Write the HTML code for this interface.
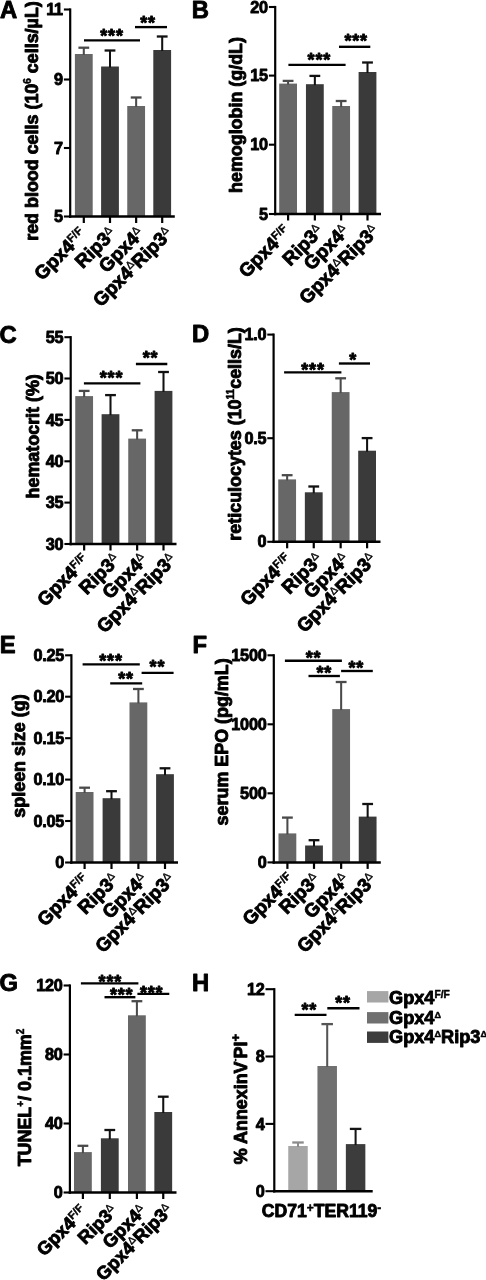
<!DOCTYPE html>
<html lang="en">
<head>
<meta charset="utf-8">
<title>Figure: Gpx4 / Rip3 hematology panels A-H</title>
<style>
html,body{margin:0;padding:0;background:#fff;}
body{width:486px;height:1280px;overflow:hidden;}
svg{display:block;}
text{white-space:pre;stroke:#000;stroke-width:0.9px;stroke-linejoin:round;}
</style>
</head>
<body>
<svg width="486" height="1280" viewBox="0 0 486 1280" font-family="'Liberation Sans', sans-serif" font-weight="bold" fill="#000">
<rect width="486" height="1280" fill="#fff"/>
<g class="panel-A">
<rect x="74.90" y="54.00" width="17.80" height="162.50" fill="#676767"/>
<line x1="83.80" y1="47.20" x2="83.80" y2="55.00" stroke="#4a4a4a" stroke-width="2.05"/>
<line x1="78.40" y1="47.70" x2="89.20" y2="47.70" stroke="#4a4a4a" stroke-width="2.3"/>
<rect x="101.10" y="66.50" width="17.80" height="150.00" fill="#3a3a3a"/>
<line x1="110.00" y1="50.00" x2="110.00" y2="67.50" stroke="#111" stroke-width="2.05"/>
<line x1="104.60" y1="50.50" x2="115.40" y2="50.50" stroke="#111" stroke-width="2.3"/>
<rect x="127.25" y="106.00" width="17.80" height="110.50" fill="#676767"/>
<line x1="136.15" y1="97.00" x2="136.15" y2="107.00" stroke="#4a4a4a" stroke-width="2.05"/>
<line x1="130.75" y1="97.50" x2="141.55" y2="97.50" stroke="#4a4a4a" stroke-width="2.3"/>
<rect x="153.30" y="50.00" width="17.80" height="166.50" fill="#3a3a3a"/>
<line x1="162.20" y1="36.00" x2="162.20" y2="51.00" stroke="#111" stroke-width="2.05"/>
<line x1="156.80" y1="36.50" x2="167.60" y2="36.50" stroke="#111" stroke-width="2.3"/>
<line x1="70.20" y1="8.40" x2="70.20" y2="217.75" stroke="#000" stroke-width="2.2"/>
<line x1="69.00" y1="216.50" x2="174.80" y2="216.50" stroke="#000" stroke-width="2.5"/>
<line x1="63.90" y1="9.50" x2="70.20" y2="9.50" stroke="#000" stroke-width="2.1"/>
<text transform="translate(62.90,15.10) scale(0.94,1)" font-size="17.3" text-anchor="end" letter-spacing="-0.25">11</text>
<line x1="63.90" y1="79.50" x2="70.20" y2="79.50" stroke="#000" stroke-width="2.1"/>
<text transform="translate(62.90,85.10) scale(0.94,1)" font-size="17.3" text-anchor="end" letter-spacing="-0.25">9</text>
<line x1="63.90" y1="148.00" x2="70.20" y2="148.00" stroke="#000" stroke-width="2.1"/>
<text transform="translate(62.90,153.60) scale(0.94,1)" font-size="17.3" text-anchor="end" letter-spacing="-0.25">7</text>
<line x1="63.90" y1="216.50" x2="70.20" y2="216.50" stroke="#000" stroke-width="2.1"/>
<text transform="translate(62.90,222.10) scale(0.94,1)" font-size="17.3" text-anchor="end" letter-spacing="-0.25">5</text>
<line x1="83.80" y1="216.50" x2="83.80" y2="223.00" stroke="#000" stroke-width="2.2"/>
<text transform="translate(87.80,235.50) rotate(-45)" font-size="19" text-anchor="end">Gpx4<tspan font-size="0.58em" dy="-0.58em" stroke-width="0.45" letter-spacing="0.2">F/F</tspan></text>
<line x1="110.00" y1="216.50" x2="110.00" y2="223.00" stroke="#000" stroke-width="2.2"/>
<text transform="translate(117.00,235.00) rotate(-45)" font-size="19" text-anchor="end">Rip3<tspan font-size="0.56em" dy="-0.6em" font-weight="normal" stroke-width="0.45">Δ</tspan></text>
<line x1="136.15" y1="216.50" x2="136.15" y2="223.00" stroke="#000" stroke-width="2.2"/>
<text transform="translate(145.15,235.00) rotate(-45)" font-size="19" text-anchor="end">Gpx4<tspan font-size="0.56em" dy="-0.6em" font-weight="normal" stroke-width="0.45">Δ</tspan></text>
<line x1="162.20" y1="216.50" x2="162.20" y2="223.00" stroke="#000" stroke-width="2.2"/>
<text transform="translate(173.50,235.00) rotate(-45)" font-size="19" text-anchor="end">Gpx4<tspan font-size="0.56em" dy="-0.6em" font-weight="normal" stroke-width="0.45">Δ</tspan><tspan dy="0.336em">Rip3</tspan><tspan font-size="0.56em" dy="-0.6em" font-weight="normal" stroke-width="0.45">Δ</tspan></text>
<line x1="84.00" y1="40.40" x2="140.00" y2="40.40" stroke="#000" stroke-width="2.35"/>
<text x="112.00" y="42.40" font-size="18" text-anchor="middle" stroke-width="0.25" letter-spacing="0.8">***</text>
<line x1="135.00" y1="27.10" x2="167.00" y2="27.10" stroke="#000" stroke-width="2.35"/>
<text x="148.00" y="29.40" font-size="18" text-anchor="middle" stroke-width="0.25" letter-spacing="0.8">**</text>
<text x="0.00" y="18.10" font-size="23.8" stroke-width="0.6">A</text>
<text transform="translate(37.90,121.00) rotate(-90)" font-size="17.9" text-anchor="middle">red blood cells (10<tspan font-size="0.56em" dy="-0.670em" stroke-width="0.5">6</tspan><tspan dy="0.375em"> cells/µL)</tspan></text>
</g>
<g class="panel-B">
<rect x="279.20" y="83.60" width="17.80" height="130.40" fill="#676767"/>
<line x1="288.10" y1="80.40" x2="288.10" y2="84.60" stroke="#4a4a4a" stroke-width="2.05"/>
<line x1="282.70" y1="80.90" x2="293.50" y2="80.90" stroke="#4a4a4a" stroke-width="2.3"/>
<rect x="305.95" y="84.20" width="17.80" height="129.80" fill="#3a3a3a"/>
<line x1="314.85" y1="75.40" x2="314.85" y2="85.20" stroke="#111" stroke-width="2.05"/>
<line x1="309.45" y1="75.90" x2="320.25" y2="75.90" stroke="#111" stroke-width="2.3"/>
<rect x="332.25" y="106.00" width="17.80" height="108.00" fill="#676767"/>
<line x1="341.15" y1="100.50" x2="341.15" y2="107.00" stroke="#4a4a4a" stroke-width="2.05"/>
<line x1="335.75" y1="101.00" x2="346.55" y2="101.00" stroke="#4a4a4a" stroke-width="2.3"/>
<rect x="358.60" y="72.00" width="17.80" height="142.00" fill="#3a3a3a"/>
<line x1="367.50" y1="62.00" x2="367.50" y2="73.00" stroke="#111" stroke-width="2.05"/>
<line x1="362.10" y1="62.50" x2="372.90" y2="62.50" stroke="#111" stroke-width="2.3"/>
<line x1="275.20" y1="5.90" x2="275.20" y2="215.25" stroke="#000" stroke-width="2.2"/>
<line x1="274.00" y1="214.00" x2="381.00" y2="214.00" stroke="#000" stroke-width="2.5"/>
<line x1="268.90" y1="7.00" x2="275.20" y2="7.00" stroke="#000" stroke-width="2.1"/>
<text transform="translate(267.90,12.60) scale(0.94,1)" font-size="17.3" text-anchor="end" letter-spacing="-0.25">20</text>
<line x1="268.90" y1="75.60" x2="275.20" y2="75.60" stroke="#000" stroke-width="2.1"/>
<text transform="translate(267.90,81.20) scale(0.94,1)" font-size="17.3" text-anchor="end" letter-spacing="-0.25">15</text>
<line x1="268.90" y1="144.70" x2="275.20" y2="144.70" stroke="#000" stroke-width="2.1"/>
<text transform="translate(267.90,150.30) scale(0.94,1)" font-size="17.3" text-anchor="end" letter-spacing="-0.25">10</text>
<line x1="268.90" y1="214.00" x2="275.20" y2="214.00" stroke="#000" stroke-width="2.1"/>
<text transform="translate(267.90,219.60) scale(0.94,1)" font-size="17.3" text-anchor="end" letter-spacing="-0.25">5</text>
<line x1="288.10" y1="214.00" x2="288.10" y2="220.50" stroke="#000" stroke-width="2.2"/>
<text transform="translate(292.10,233.00) rotate(-45)" font-size="19" text-anchor="end">Gpx4<tspan font-size="0.58em" dy="-0.58em" stroke-width="0.45" letter-spacing="0.2">F/F</tspan></text>
<line x1="314.85" y1="214.00" x2="314.85" y2="220.50" stroke="#000" stroke-width="2.2"/>
<text transform="translate(324.35,232.50) rotate(-45)" font-size="19" text-anchor="end">Rip3<tspan font-size="0.56em" dy="-0.6em" font-weight="normal" stroke-width="0.45">Δ</tspan></text>
<line x1="341.15" y1="214.00" x2="341.15" y2="220.50" stroke="#000" stroke-width="2.2"/>
<text transform="translate(350.15,232.50) rotate(-45)" font-size="19" text-anchor="end">Gpx4<tspan font-size="0.56em" dy="-0.6em" font-weight="normal" stroke-width="0.45">Δ</tspan></text>
<line x1="367.50" y1="214.00" x2="367.50" y2="220.50" stroke="#000" stroke-width="2.2"/>
<text transform="translate(379.80,232.50) rotate(-45)" font-size="19" text-anchor="end">Gpx4<tspan font-size="0.56em" dy="-0.6em" font-weight="normal" stroke-width="0.45">Δ</tspan><tspan dy="0.336em">Rip3</tspan><tspan font-size="0.56em" dy="-0.6em" font-weight="normal" stroke-width="0.45">Δ</tspan></text>
<line x1="288.40" y1="64.80" x2="345.60" y2="64.80" stroke="#000" stroke-width="2.35"/>
<text x="319.30" y="65.50" font-size="18" text-anchor="middle" stroke-width="0.25" letter-spacing="0.8">***</text>
<line x1="339.00" y1="46.80" x2="370.30" y2="46.80" stroke="#000" stroke-width="2.35"/>
<text x="356.20" y="47.40" font-size="18" text-anchor="middle" stroke-width="0.25" letter-spacing="0.8">***</text>
<text x="191.70" y="17.60" font-size="23.8" stroke-width="0.6">B</text>
<text transform="translate(241.50,115.00) rotate(-90)" font-size="17.9" text-anchor="middle">hemoglobin (g/dL)</text>
</g>
<g class="panel-C">
<rect x="75.25" y="396.10" width="17.80" height="147.90" fill="#676767"/>
<line x1="84.15" y1="390.40" x2="84.15" y2="397.10" stroke="#4a4a4a" stroke-width="2.05"/>
<line x1="78.75" y1="390.90" x2="89.55" y2="390.90" stroke="#4a4a4a" stroke-width="2.3"/>
<rect x="101.60" y="414.20" width="17.80" height="129.80" fill="#3a3a3a"/>
<line x1="110.50" y1="394.60" x2="110.50" y2="415.20" stroke="#111" stroke-width="2.05"/>
<line x1="105.10" y1="395.10" x2="115.90" y2="395.10" stroke="#111" stroke-width="2.3"/>
<rect x="128.25" y="438.60" width="17.80" height="105.40" fill="#676767"/>
<line x1="137.15" y1="429.80" x2="137.15" y2="439.60" stroke="#4a4a4a" stroke-width="2.05"/>
<line x1="131.75" y1="430.30" x2="142.55" y2="430.30" stroke="#4a4a4a" stroke-width="2.3"/>
<rect x="154.60" y="390.90" width="17.80" height="153.10" fill="#3a3a3a"/>
<line x1="163.50" y1="371.50" x2="163.50" y2="391.90" stroke="#111" stroke-width="2.05"/>
<line x1="158.10" y1="372.00" x2="168.90" y2="372.00" stroke="#111" stroke-width="2.3"/>
<line x1="70.70" y1="336.10" x2="70.70" y2="545.25" stroke="#000" stroke-width="2.2"/>
<line x1="69.50" y1="544.00" x2="176.50" y2="544.00" stroke="#000" stroke-width="2.5"/>
<line x1="64.40" y1="337.20" x2="70.70" y2="337.20" stroke="#000" stroke-width="2.1"/>
<text transform="translate(63.40,342.80) scale(0.94,1)" font-size="17.3" text-anchor="end" letter-spacing="-0.25">55</text>
<line x1="64.40" y1="378.50" x2="70.70" y2="378.50" stroke="#000" stroke-width="2.1"/>
<text transform="translate(63.40,384.10) scale(0.94,1)" font-size="17.3" text-anchor="end" letter-spacing="-0.25">50</text>
<line x1="64.40" y1="419.90" x2="70.70" y2="419.90" stroke="#000" stroke-width="2.1"/>
<text transform="translate(63.40,425.50) scale(0.94,1)" font-size="17.3" text-anchor="end" letter-spacing="-0.25">45</text>
<line x1="64.40" y1="461.30" x2="70.70" y2="461.30" stroke="#000" stroke-width="2.1"/>
<text transform="translate(63.40,466.90) scale(0.94,1)" font-size="17.3" text-anchor="end" letter-spacing="-0.25">40</text>
<line x1="64.40" y1="502.60" x2="70.70" y2="502.60" stroke="#000" stroke-width="2.1"/>
<text transform="translate(63.40,508.20) scale(0.94,1)" font-size="17.3" text-anchor="end" letter-spacing="-0.25">35</text>
<line x1="64.40" y1="544.00" x2="70.70" y2="544.00" stroke="#000" stroke-width="2.1"/>
<text transform="translate(63.40,549.60) scale(0.94,1)" font-size="17.3" text-anchor="end" letter-spacing="-0.25">30</text>
<line x1="84.15" y1="544.00" x2="84.15" y2="550.50" stroke="#000" stroke-width="2.2"/>
<text transform="translate(90.65,561.80) rotate(-45)" font-size="19" text-anchor="end">Gpx4<tspan font-size="0.58em" dy="-0.58em" stroke-width="0.45" letter-spacing="0.2">F/F</tspan></text>
<line x1="110.50" y1="544.00" x2="110.50" y2="550.50" stroke="#000" stroke-width="2.2"/>
<text transform="translate(121.00,561.30) rotate(-45)" font-size="19" text-anchor="end">Rip3<tspan font-size="0.56em" dy="-0.6em" font-weight="normal" stroke-width="0.45">Δ</tspan></text>
<line x1="137.15" y1="544.00" x2="137.15" y2="550.50" stroke="#000" stroke-width="2.2"/>
<text transform="translate(148.65,561.30) rotate(-45)" font-size="19" text-anchor="end">Gpx4<tspan font-size="0.56em" dy="-0.6em" font-weight="normal" stroke-width="0.45">Δ</tspan></text>
<line x1="163.50" y1="544.00" x2="163.50" y2="550.50" stroke="#000" stroke-width="2.2"/>
<text transform="translate(177.30,561.30) rotate(-45)" font-size="19" text-anchor="end">Gpx4<tspan font-size="0.56em" dy="-0.6em" font-weight="normal" stroke-width="0.45">Δ</tspan><tspan dy="0.336em">Rip3</tspan><tspan font-size="0.56em" dy="-0.6em" font-weight="normal" stroke-width="0.45">Δ</tspan></text>
<line x1="83.90" y1="383.30" x2="140.40" y2="383.30" stroke="#000" stroke-width="2.35"/>
<text x="111.50" y="384.40" font-size="18" text-anchor="middle" stroke-width="0.25" letter-spacing="0.8">***</text>
<line x1="135.90" y1="364.00" x2="167.30" y2="364.00" stroke="#000" stroke-width="2.35"/>
<text x="150.50" y="364.30" font-size="18" text-anchor="middle" stroke-width="0.25" letter-spacing="0.8">**</text>
<text x="-0.60" y="342.60" font-size="23.8" stroke-width="0.6">C</text>
<text transform="translate(38.60,436.30) rotate(-90)" font-size="17.9" text-anchor="middle">hematocrit (%)</text>
</g>
<g class="panel-D">
<rect x="278.25" y="479.40" width="17.80" height="62.40" fill="#676767"/>
<line x1="287.15" y1="474.70" x2="287.15" y2="480.40" stroke="#4a4a4a" stroke-width="2.05"/>
<line x1="281.75" y1="475.20" x2="292.55" y2="475.20" stroke="#4a4a4a" stroke-width="2.3"/>
<rect x="304.85" y="492.30" width="17.80" height="49.50" fill="#3a3a3a"/>
<line x1="313.75" y1="486.00" x2="313.75" y2="493.30" stroke="#111" stroke-width="2.05"/>
<line x1="308.35" y1="486.50" x2="319.15" y2="486.50" stroke="#111" stroke-width="2.3"/>
<rect x="331.75" y="392.10" width="17.80" height="149.70" fill="#676767"/>
<line x1="340.65" y1="377.80" x2="340.65" y2="393.10" stroke="#4a4a4a" stroke-width="2.05"/>
<line x1="335.25" y1="378.30" x2="346.05" y2="378.30" stroke="#4a4a4a" stroke-width="2.3"/>
<rect x="358.20" y="450.70" width="17.80" height="91.10" fill="#3a3a3a"/>
<line x1="367.10" y1="437.60" x2="367.10" y2="451.70" stroke="#111" stroke-width="2.05"/>
<line x1="361.70" y1="438.10" x2="372.50" y2="438.10" stroke="#111" stroke-width="2.3"/>
<line x1="273.60" y1="333.50" x2="273.60" y2="543.05" stroke="#000" stroke-width="2.2"/>
<line x1="272.40" y1="541.80" x2="380.50" y2="541.80" stroke="#000" stroke-width="2.5"/>
<line x1="267.30" y1="334.60" x2="273.60" y2="334.60" stroke="#000" stroke-width="2.1"/>
<text transform="translate(266.30,340.20) scale(0.94,1)" font-size="17.3" text-anchor="end" letter-spacing="-0.25">1.0</text>
<line x1="267.30" y1="438.20" x2="273.60" y2="438.20" stroke="#000" stroke-width="2.1"/>
<text transform="translate(266.30,443.80) scale(0.94,1)" font-size="17.3" text-anchor="end" letter-spacing="-0.25">0.5</text>
<line x1="267.30" y1="541.80" x2="273.60" y2="541.80" stroke="#000" stroke-width="2.1"/>
<text transform="translate(266.30,547.40) scale(0.94,1)" font-size="17.3" text-anchor="end" letter-spacing="-0.25">0</text>
<line x1="287.15" y1="541.80" x2="287.15" y2="548.30" stroke="#000" stroke-width="2.2"/>
<text transform="translate(293.65,561.30) rotate(-45)" font-size="19" text-anchor="end">Gpx4<tspan font-size="0.58em" dy="-0.58em" stroke-width="0.45" letter-spacing="0.2">F/F</tspan></text>
<line x1="313.75" y1="541.80" x2="313.75" y2="548.30" stroke="#000" stroke-width="2.2"/>
<text transform="translate(323.75,560.80) rotate(-45)" font-size="19" text-anchor="end">Rip3<tspan font-size="0.56em" dy="-0.6em" font-weight="normal" stroke-width="0.45">Δ</tspan></text>
<line x1="340.65" y1="541.80" x2="340.65" y2="548.30" stroke="#000" stroke-width="2.2"/>
<text transform="translate(350.15,560.80) rotate(-45)" font-size="19" text-anchor="end">Gpx4<tspan font-size="0.56em" dy="-0.6em" font-weight="normal" stroke-width="0.45">Δ</tspan></text>
<line x1="367.10" y1="541.80" x2="367.10" y2="548.30" stroke="#000" stroke-width="2.2"/>
<text transform="translate(377.20,560.80) rotate(-45)" font-size="19" text-anchor="end">Gpx4<tspan font-size="0.56em" dy="-0.6em" font-weight="normal" stroke-width="0.45">Δ</tspan><tspan dy="0.336em">Rip3</tspan><tspan font-size="0.56em" dy="-0.6em" font-weight="normal" stroke-width="0.45">Δ</tspan></text>
<line x1="284.10" y1="372.30" x2="341.40" y2="372.30" stroke="#000" stroke-width="2.35"/>
<text x="313.00" y="376.10" font-size="18" text-anchor="middle" stroke-width="0.25" letter-spacing="0.8">***</text>
<line x1="338.90" y1="363.50" x2="370.00" y2="363.50" stroke="#000" stroke-width="2.35"/>
<text x="353.20" y="365.60" font-size="18" text-anchor="middle" stroke-width="0.25" letter-spacing="0.8">*</text>
<text x="191.90" y="342.00" font-size="23.8" stroke-width="0.6">D</text>
<text transform="translate(240.50,433.90) rotate(-90)" font-size="17.9" text-anchor="middle">reticulocytes (10<tspan font-size="0.56em" dy="-0.670em" stroke-width="0.5">11</tspan><tspan dy="0.375em">cells/L)</tspan></text>
</g>
<g class="panel-E">
<rect x="75.70" y="792.00" width="17.80" height="70.50" fill="#676767"/>
<line x1="84.60" y1="787.20" x2="84.60" y2="793.00" stroke="#4a4a4a" stroke-width="2.05"/>
<line x1="79.20" y1="787.70" x2="90.00" y2="787.70" stroke="#4a4a4a" stroke-width="2.3"/>
<rect x="102.60" y="798.20" width="17.80" height="64.30" fill="#3a3a3a"/>
<line x1="111.50" y1="790.70" x2="111.50" y2="799.20" stroke="#111" stroke-width="2.05"/>
<line x1="106.10" y1="791.20" x2="116.90" y2="791.20" stroke="#111" stroke-width="2.3"/>
<rect x="129.50" y="702.40" width="17.80" height="160.10" fill="#676767"/>
<line x1="138.40" y1="688.50" x2="138.40" y2="703.40" stroke="#4a4a4a" stroke-width="2.05"/>
<line x1="133.00" y1="689.00" x2="143.80" y2="689.00" stroke="#4a4a4a" stroke-width="2.3"/>
<rect x="156.10" y="774.20" width="17.80" height="88.30" fill="#3a3a3a"/>
<line x1="165.00" y1="767.80" x2="165.00" y2="775.20" stroke="#111" stroke-width="2.05"/>
<line x1="159.60" y1="768.30" x2="170.40" y2="768.30" stroke="#111" stroke-width="2.3"/>
<line x1="71.40" y1="654.20" x2="71.40" y2="863.75" stroke="#000" stroke-width="2.2"/>
<line x1="70.20" y1="862.50" x2="178.00" y2="862.50" stroke="#000" stroke-width="2.5"/>
<line x1="65.10" y1="655.30" x2="71.40" y2="655.30" stroke="#000" stroke-width="2.1"/>
<text transform="translate(64.10,660.90) scale(0.94,1)" font-size="17.3" text-anchor="end" letter-spacing="-0.25">0.25</text>
<line x1="65.10" y1="696.70" x2="71.40" y2="696.70" stroke="#000" stroke-width="2.1"/>
<text transform="translate(64.10,702.30) scale(0.94,1)" font-size="17.3" text-anchor="end" letter-spacing="-0.25">0.20</text>
<line x1="65.10" y1="738.20" x2="71.40" y2="738.20" stroke="#000" stroke-width="2.1"/>
<text transform="translate(64.10,743.80) scale(0.94,1)" font-size="17.3" text-anchor="end" letter-spacing="-0.25">0.15</text>
<line x1="65.10" y1="779.60" x2="71.40" y2="779.60" stroke="#000" stroke-width="2.1"/>
<text transform="translate(64.10,785.20) scale(0.94,1)" font-size="17.3" text-anchor="end" letter-spacing="-0.25">0.10</text>
<line x1="65.10" y1="821.00" x2="71.40" y2="821.00" stroke="#000" stroke-width="2.1"/>
<text transform="translate(64.10,826.60) scale(0.94,1)" font-size="17.3" text-anchor="end" letter-spacing="-0.25">0.05</text>
<line x1="65.10" y1="862.50" x2="71.40" y2="862.50" stroke="#000" stroke-width="2.1"/>
<text transform="translate(64.10,868.10) scale(0.94,1)" font-size="17.3" text-anchor="end" letter-spacing="-0.25">0</text>
<line x1="84.60" y1="862.50" x2="84.60" y2="869.00" stroke="#000" stroke-width="2.2"/>
<text transform="translate(90.80,881.50) rotate(-45)" font-size="19" text-anchor="end">Gpx4<tspan font-size="0.58em" dy="-0.58em" stroke-width="0.45" letter-spacing="0.2">F/F</tspan></text>
<line x1="111.50" y1="862.50" x2="111.50" y2="869.00" stroke="#000" stroke-width="2.2"/>
<text transform="translate(119.70,881.00) rotate(-45)" font-size="19" text-anchor="end">Rip3<tspan font-size="0.56em" dy="-0.6em" font-weight="normal" stroke-width="0.45">Δ</tspan></text>
<line x1="138.40" y1="862.50" x2="138.40" y2="869.00" stroke="#000" stroke-width="2.2"/>
<text transform="translate(148.60,881.00) rotate(-45)" font-size="19" text-anchor="end">Gpx4<tspan font-size="0.56em" dy="-0.6em" font-weight="normal" stroke-width="0.45">Δ</tspan></text>
<line x1="165.00" y1="862.50" x2="165.00" y2="869.00" stroke="#000" stroke-width="2.2"/>
<text transform="translate(175.70,881.00) rotate(-45)" font-size="19" text-anchor="end">Gpx4<tspan font-size="0.56em" dy="-0.6em" font-weight="normal" stroke-width="0.45">Δ</tspan><tspan dy="0.336em">Rip3</tspan><tspan font-size="0.56em" dy="-0.6em" font-weight="normal" stroke-width="0.45">Δ</tspan></text>
<line x1="82.60" y1="664.30" x2="139.80" y2="664.30" stroke="#000" stroke-width="2.35"/>
<text x="111.00" y="666.50" font-size="18" text-anchor="middle" stroke-width="0.25" letter-spacing="0.8">***</text>
<line x1="110.20" y1="683.40" x2="142.20" y2="683.40" stroke="#000" stroke-width="2.35"/>
<text x="126.00" y="684.60" font-size="18" text-anchor="middle" stroke-width="0.25" letter-spacing="0.8">**</text>
<line x1="141.60" y1="672.90" x2="173.60" y2="672.90" stroke="#000" stroke-width="2.35"/>
<text x="157.40" y="673.40" font-size="18" text-anchor="middle" stroke-width="0.25" letter-spacing="0.8">**</text>
<text x="-0.20" y="653.20" font-size="23.8" stroke-width="0.6">E</text>
<text transform="translate(25.30,756.00) rotate(-90)" font-size="17.9" text-anchor="middle">spleen size (g)</text>
</g>
<g class="panel-F">
<rect x="278.50" y="833.40" width="17.80" height="29.00" fill="#676767"/>
<line x1="287.40" y1="817.10" x2="287.40" y2="834.40" stroke="#4a4a4a" stroke-width="2.05"/>
<line x1="282.00" y1="817.60" x2="292.80" y2="817.60" stroke="#4a4a4a" stroke-width="2.3"/>
<rect x="305.10" y="845.50" width="17.80" height="16.90" fill="#3a3a3a"/>
<line x1="314.00" y1="839.70" x2="314.00" y2="846.50" stroke="#111" stroke-width="2.05"/>
<line x1="308.60" y1="840.20" x2="319.40" y2="840.20" stroke="#111" stroke-width="2.3"/>
<rect x="332.25" y="709.10" width="17.80" height="153.30" fill="#676767"/>
<line x1="341.15" y1="681.50" x2="341.15" y2="710.10" stroke="#4a4a4a" stroke-width="2.05"/>
<line x1="335.75" y1="682.00" x2="346.55" y2="682.00" stroke="#4a4a4a" stroke-width="2.3"/>
<rect x="358.75" y="816.60" width="17.80" height="45.80" fill="#3a3a3a"/>
<line x1="367.65" y1="803.50" x2="367.65" y2="817.60" stroke="#111" stroke-width="2.05"/>
<line x1="362.25" y1="804.00" x2="373.05" y2="804.00" stroke="#111" stroke-width="2.3"/>
<line x1="273.80" y1="654.20" x2="273.80" y2="863.65" stroke="#000" stroke-width="2.2"/>
<line x1="272.60" y1="862.40" x2="380.80" y2="862.40" stroke="#000" stroke-width="2.5"/>
<line x1="267.50" y1="655.30" x2="273.80" y2="655.30" stroke="#000" stroke-width="2.1"/>
<text transform="translate(266.50,660.90) scale(0.94,1)" font-size="17.3" text-anchor="end" letter-spacing="-0.25">1500</text>
<line x1="267.50" y1="724.30" x2="273.80" y2="724.30" stroke="#000" stroke-width="2.1"/>
<text transform="translate(266.50,729.90) scale(0.94,1)" font-size="17.3" text-anchor="end" letter-spacing="-0.25">1000</text>
<line x1="267.50" y1="793.30" x2="273.80" y2="793.30" stroke="#000" stroke-width="2.1"/>
<text transform="translate(266.50,798.90) scale(0.94,1)" font-size="17.3" text-anchor="end" letter-spacing="-0.25">500</text>
<line x1="267.50" y1="862.40" x2="273.80" y2="862.40" stroke="#000" stroke-width="2.1"/>
<text transform="translate(266.50,868.00) scale(0.94,1)" font-size="17.3" text-anchor="end" letter-spacing="-0.25">0</text>
<line x1="287.40" y1="862.40" x2="287.40" y2="868.90" stroke="#000" stroke-width="2.2"/>
<text transform="translate(295.90,880.90) rotate(-45)" font-size="19" text-anchor="end">Gpx4<tspan font-size="0.58em" dy="-0.58em" stroke-width="0.45" letter-spacing="0.2">F/F</tspan></text>
<line x1="314.00" y1="862.40" x2="314.00" y2="868.90" stroke="#000" stroke-width="2.2"/>
<text transform="translate(321.00,880.90) rotate(-45)" font-size="19" text-anchor="end">Rip3<tspan font-size="0.56em" dy="-0.6em" font-weight="normal" stroke-width="0.45">Δ</tspan></text>
<line x1="341.15" y1="862.40" x2="341.15" y2="868.90" stroke="#000" stroke-width="2.2"/>
<text transform="translate(350.15,880.90) rotate(-45)" font-size="19" text-anchor="end">Gpx4<tspan font-size="0.56em" dy="-0.6em" font-weight="normal" stroke-width="0.45">Δ</tspan></text>
<line x1="367.65" y1="862.40" x2="367.65" y2="868.90" stroke="#000" stroke-width="2.2"/>
<text transform="translate(377.45,880.90) rotate(-45)" font-size="19" text-anchor="end">Gpx4<tspan font-size="0.56em" dy="-0.6em" font-weight="normal" stroke-width="0.45">Δ</tspan><tspan dy="0.336em">Rip3</tspan><tspan font-size="0.56em" dy="-0.6em" font-weight="normal" stroke-width="0.45">Δ</tspan></text>
<line x1="284.90" y1="660.70" x2="341.90" y2="660.70" stroke="#000" stroke-width="2.35"/>
<text x="313.50" y="663.50" font-size="18" text-anchor="middle" stroke-width="0.25" letter-spacing="0.8">**</text>
<line x1="308.50" y1="676.00" x2="339.90" y2="676.00" stroke="#000" stroke-width="2.35"/>
<text x="324.30" y="679.00" font-size="18" text-anchor="middle" stroke-width="0.25" letter-spacing="0.8">**</text>
<line x1="341.10" y1="671.00" x2="372.80" y2="671.00" stroke="#000" stroke-width="2.35"/>
<text x="356.20" y="674.30" font-size="18" text-anchor="middle" stroke-width="0.25" letter-spacing="0.8">**</text>
<text x="192.50" y="653.20" font-size="23.8" stroke-width="0.6">F</text>
<text transform="translate(228.00,741.90) rotate(-90)" font-size="17.9" text-anchor="middle">serum EPO (pg/mL)</text>
</g>
<g class="panel-G">
<rect x="74.00" y="1152.10" width="17.80" height="40.40" fill="#676767"/>
<line x1="82.90" y1="1145.30" x2="82.90" y2="1153.10" stroke="#4a4a4a" stroke-width="2.05"/>
<line x1="77.50" y1="1145.80" x2="88.30" y2="1145.80" stroke="#4a4a4a" stroke-width="2.3"/>
<rect x="100.90" y="1138.30" width="17.80" height="54.20" fill="#3a3a3a"/>
<line x1="109.80" y1="1129.50" x2="109.80" y2="1139.30" stroke="#111" stroke-width="2.05"/>
<line x1="104.40" y1="1130.00" x2="115.20" y2="1130.00" stroke="#111" stroke-width="2.3"/>
<rect x="128.00" y="1015.30" width="17.80" height="177.20" fill="#676767"/>
<line x1="136.90" y1="1000.70" x2="136.90" y2="1016.30" stroke="#4a4a4a" stroke-width="2.05"/>
<line x1="131.50" y1="1001.20" x2="142.30" y2="1001.20" stroke="#4a4a4a" stroke-width="2.3"/>
<rect x="154.35" y="1112.00" width="17.80" height="80.50" fill="#3a3a3a"/>
<line x1="163.25" y1="1096.20" x2="163.25" y2="1113.00" stroke="#111" stroke-width="2.05"/>
<line x1="157.85" y1="1096.70" x2="168.65" y2="1096.70" stroke="#111" stroke-width="2.3"/>
<line x1="69.90" y1="984.40" x2="69.90" y2="1193.75" stroke="#000" stroke-width="2.2"/>
<line x1="68.70" y1="1192.50" x2="176.50" y2="1192.50" stroke="#000" stroke-width="2.5"/>
<line x1="63.60" y1="985.50" x2="69.90" y2="985.50" stroke="#000" stroke-width="2.1"/>
<text transform="translate(62.60,991.10) scale(0.94,1)" font-size="17.3" text-anchor="end" letter-spacing="-0.25">120</text>
<line x1="63.60" y1="1054.50" x2="69.90" y2="1054.50" stroke="#000" stroke-width="2.1"/>
<text transform="translate(62.60,1060.10) scale(0.94,1)" font-size="17.3" text-anchor="end" letter-spacing="-0.25">80</text>
<line x1="63.60" y1="1123.50" x2="69.90" y2="1123.50" stroke="#000" stroke-width="2.1"/>
<text transform="translate(62.60,1129.10) scale(0.94,1)" font-size="17.3" text-anchor="end" letter-spacing="-0.25">40</text>
<line x1="63.60" y1="1192.50" x2="69.90" y2="1192.50" stroke="#000" stroke-width="2.1"/>
<text transform="translate(62.60,1198.10) scale(0.94,1)" font-size="17.3" text-anchor="end" letter-spacing="-0.25">0</text>
<line x1="82.90" y1="1192.50" x2="82.90" y2="1199.00" stroke="#000" stroke-width="2.2"/>
<text transform="translate(88.40,1212.70) rotate(-45)" font-size="18.4" text-anchor="end">Gpx4<tspan font-size="0.58em" dy="-0.58em" stroke-width="0.45" letter-spacing="0.2">F/F</tspan></text>
<line x1="109.80" y1="1192.50" x2="109.80" y2="1199.00" stroke="#000" stroke-width="2.2"/>
<text transform="translate(118.30,1212.20) rotate(-45)" font-size="18.4" text-anchor="end">Rip3<tspan font-size="0.56em" dy="-0.6em" font-weight="normal" stroke-width="0.45">Δ</tspan></text>
<line x1="136.90" y1="1192.50" x2="136.90" y2="1199.00" stroke="#000" stroke-width="2.2"/>
<text transform="translate(147.40,1212.20) rotate(-45)" font-size="18.4" text-anchor="end">Gpx4<tspan font-size="0.56em" dy="-0.6em" font-weight="normal" stroke-width="0.45">Δ</tspan></text>
<line x1="163.25" y1="1192.50" x2="163.25" y2="1199.00" stroke="#000" stroke-width="2.2"/>
<text transform="translate(173.85,1211.40) rotate(-45)" font-size="18.4" text-anchor="end">Gpx4<tspan font-size="0.56em" dy="-0.6em" font-weight="normal" stroke-width="0.45">Δ</tspan><tspan dy="0.336em">Rip3</tspan><tspan font-size="0.56em" dy="-0.6em" font-weight="normal" stroke-width="0.45">Δ</tspan></text>
<line x1="80.90" y1="983.40" x2="138.40" y2="983.40" stroke="#000" stroke-width="2.35"/>
<text x="110.30" y="987.60" font-size="18" text-anchor="middle" stroke-width="0.25" letter-spacing="0.8">***</text>
<line x1="104.50" y1="997.20" x2="135.40" y2="997.20" stroke="#000" stroke-width="2.35"/>
<text x="121.60" y="1001.00" font-size="18" text-anchor="middle" stroke-width="0.25" letter-spacing="0.8">***</text>
<line x1="137.40" y1="993.90" x2="169.30" y2="993.90" stroke="#000" stroke-width="2.35"/>
<text x="151.70" y="998.50" font-size="18" text-anchor="middle" stroke-width="0.25" letter-spacing="0.8">***</text>
<text x="-0.40" y="990.90" font-size="23.8" stroke-width="0.6">G</text>
<text transform="translate(31.00,1097.50) rotate(-90)" font-size="17.9" text-anchor="middle">TUNEL<tspan font-size="0.56em" dy="-0.670em" stroke-width="0.5">+</tspan><tspan dy="0.375em">/ 0.1mm</tspan><tspan font-size="0.56em" dy="-0.670em" stroke-width="0.5">2</tspan></text>
</g>
<g class="panel-H">
<rect x="288.25" y="1146.00" width="19.50" height="45.20" fill="#a6a6a6"/>
<line x1="298.00" y1="1142.00" x2="298.00" y2="1147.00" stroke="#8c8c8c" stroke-width="2.05"/>
<line x1="292.25" y1="1142.50" x2="303.75" y2="1142.50" stroke="#8c8c8c" stroke-width="2.3"/>
<rect x="317.45" y="1066.00" width="19.50" height="125.20" fill="#707070"/>
<line x1="327.20" y1="1023.60" x2="327.20" y2="1067.00" stroke="#555" stroke-width="2.05"/>
<line x1="321.45" y1="1024.10" x2="332.95" y2="1024.10" stroke="#555" stroke-width="2.3"/>
<rect x="345.85" y="1144.10" width="19.50" height="47.10" fill="#3c3c3c"/>
<line x1="355.60" y1="1128.40" x2="355.60" y2="1145.10" stroke="#151515" stroke-width="2.05"/>
<line x1="349.85" y1="1128.90" x2="361.35" y2="1128.90" stroke="#151515" stroke-width="2.3"/>
<line x1="274.30" y1="988.10" x2="274.30" y2="1192.45" stroke="#000" stroke-width="2.2"/>
<line x1="273.10" y1="1191.20" x2="372.70" y2="1191.20" stroke="#000" stroke-width="2.5"/>
<line x1="265.50" y1="989.20" x2="274.30" y2="989.20" stroke="#000" stroke-width="2.1"/>
<text transform="translate(264.50,994.80) scale(0.94,1)" font-size="17.3" text-anchor="end" letter-spacing="-0.25">12</text>
<line x1="265.50" y1="1056.50" x2="274.30" y2="1056.50" stroke="#000" stroke-width="2.1"/>
<text transform="translate(264.50,1062.10) scale(0.94,1)" font-size="17.3" text-anchor="end" letter-spacing="-0.25">8</text>
<line x1="265.50" y1="1123.90" x2="274.30" y2="1123.90" stroke="#000" stroke-width="2.1"/>
<text transform="translate(264.50,1129.50) scale(0.94,1)" font-size="17.3" text-anchor="end" letter-spacing="-0.25">4</text>
<line x1="265.50" y1="1191.20" x2="274.30" y2="1191.20" stroke="#000" stroke-width="2.1"/>
<text transform="translate(264.50,1196.80) scale(0.94,1)" font-size="17.3" text-anchor="end" letter-spacing="-0.25">0</text>
<line x1="294.70" y1="1014.90" x2="326.50" y2="1014.90" stroke="#000" stroke-width="2.35"/>
<text x="309.20" y="1015.60" font-size="18" text-anchor="middle" stroke-width="0.25" letter-spacing="0.8">**</text>
<line x1="327.30" y1="1008.20" x2="359.50" y2="1008.20" stroke="#000" stroke-width="2.35"/>
<text x="343.10" y="1009.00" font-size="18" text-anchor="middle" stroke-width="0.25" letter-spacing="0.8">**</text>
<text x="191.90" y="990.80" font-size="23.8" stroke-width="0.6">H</text>
<text transform="translate(247.30,1099.00) rotate(-90)" font-size="17.9" text-anchor="middle">% AnnexinV<tspan font-size="0.5em" dy="-1.04em" stroke-width="0.4">-</tspan><tspan dy="0.52em">PI</tspan><tspan font-size="0.74em" dy="-0.55em" stroke-width="0.6">+</tspan></text>
</g>
<g class="legend">
<text x="261.8" y="1217.1" font-size="17.6">CD71<tspan font-size="0.68em" dy="-0.42em" stroke-width="0.5">+</tspan><tspan dy="0.2856em">TER119</tspan><tspan font-size="0.68em" dy="-0.42em" stroke-width="0.5">-</tspan></text>
<rect x="367" y="991.1" width="21.4" height="11.4" fill="#a6a6a6"/>
<text x="389.0" y="1003.5" font-size="18.2">Gpx4<tspan font-size="0.56em" dy="-0.56em" stroke-width="0.5">F/F</tspan></text>
<rect x="367" y="1012.1" width="21.4" height="11.4" fill="#707070"/>
<text x="389.0" y="1023.6" font-size="18.2">Gpx4<tspan font-size="0.5em" dy="-0.67em" stroke-width="0.45">Δ</tspan></text>
<rect x="367" y="1031.5" width="21.4" height="11.4" fill="#3c3c3c"/>
<text x="389.0" y="1043.1" font-size="18.2">Gpx4<tspan font-size="0.5em" dy="-0.67em" stroke-width="0.45">Δ</tspan><tspan dy="0.335em">Rip3</tspan><tspan font-size="0.5em" dy="-0.67em" stroke-width="0.45">Δ</tspan></text>
</g>
</svg>
</body>
</html>
